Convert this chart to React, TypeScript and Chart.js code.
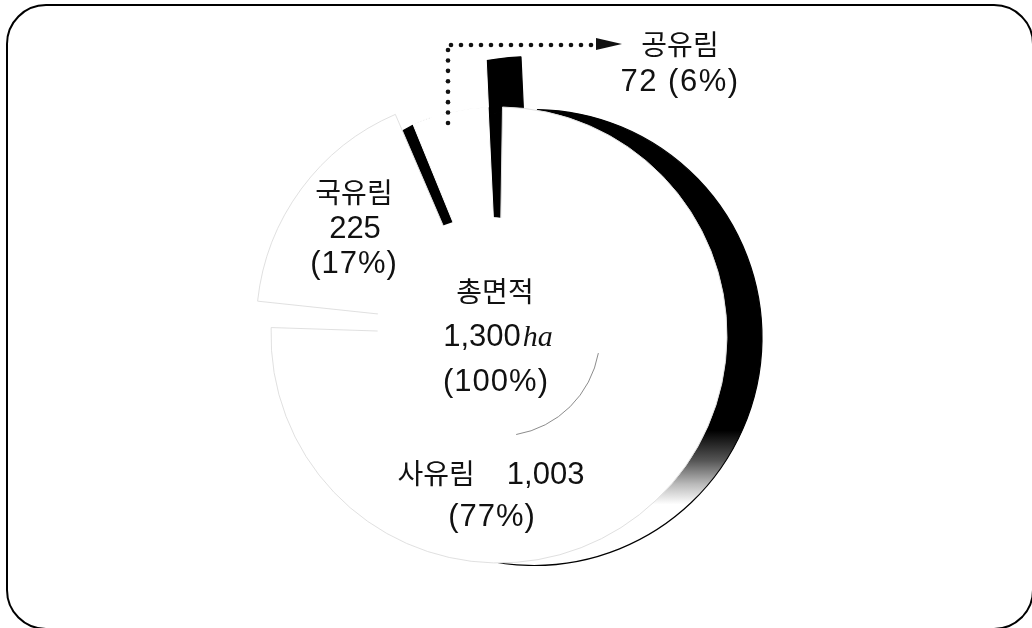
import { useEffect, useRef } from 'react';
import { Chart, registerables } from 'chart.js';

Chart.register(...registerables);

// ---- data ----
const categories = ['사유림', '국유림', '공유림'];
const areas = [1003, 225, 72];
const shares = [77, 17, 6];
const totalTitle = '총면적';
const totalArea = 1300;
const totalShare = 100;
const unit = 'ha';
const raisedSlice = [false, false, true];
const sliceOffsets = [0, 64, 0];

// ---- style ----
const SHADOW_DX = 35;
const SHADOW_DY = 2.5;
const SPACING = 8;
const KO = '28px "Noto Sans CJK KR", "Liberation Sans", sans-serif';
const NUM = '31px "Liberation Sans", Arial, sans-serif';
const UNIT_FONT = 'italic 30px "Liberation Serif", serif';
const INK = '#111';
const CLEAR = 'rgba(0,0,0,0)';
const EDGE = '#e0e0e0';

const fmt = (n: number) => n.toLocaleString('en-US');

type Run = [string, string] | number;

function drawRuns(ctx: CanvasRenderingContext2D, runs: Run[], cx: number, base: number, spacing = '0px') {
  let total = 0;
  (ctx as any).letterSpacing = spacing;
  const widths = runs.map((r) => {
    if (typeof r === 'number') {
      total += r;
      return r;
    }
    ctx.font = r[1];
    const w = ctx.measureText(r[0]).width;
    total += w;
    return w;
  });
  let x = cx - total / 2;
  ctx.textAlign = 'left';
  ctx.textBaseline = 'alphabetic';
  runs.forEach((r, i) => {
    if (typeof r !== 'number') {
      ctx.font = r[1];
      ctx.fillText(r[0], x, base);
    }
    x += widths[i];
  });
  (ctx as any).letterSpacing = '0px';
}

function dots(ctx: CanvasRenderingContext2D, x1: number, y1: number, x2: number, y2: number, step: number) {
  const len = Math.hypot(x2 - x1, y2 - y1);
  const n = Math.round(len / step);
  for (let i = 0; i <= n; i++) {
    const t = n === 0 ? 0 : i / n;
    ctx.beginPath();
    ctx.arc(x1 + (x2 - x1) * t, y1 + (y2 - y1) * t, 2.3, 0, Math.PI * 2);
    ctx.fill();
  }
}

const extrudePlugin = {
  id: 'extrude',
  beforeDatasetsDraw(chart: any) {
    const ctx: CanvasRenderingContext2D = chart.ctx;
    const grad = ctx.createLinearGradient(0, 0, 0, 628);
    grad.addColorStop(0, '#000');
    grad.addColorStop(428 / 628, '#000');
    grad.addColorStop(458 / 628, '#555');
    grad.addColorStop(482 / 628, '#bbb');
    grad.addColorStop(502 / 628, '#fff');
    grad.addColorStop(1, '#fff');
    ctx.save();
    ctx.translate(SHADOW_DX, SHADOW_DY);
    chart.data.datasets.forEach((ds: any, di: number) => {
      const meta = chart.getDatasetMeta(di);
      meta.data.forEach((el: any, i: number) => {
        if (ds.backgroundColor[i] === CLEAR) return;
        const proxy = Object.create(el);
        proxy.options = { ...el.options, backgroundColor: grad, borderColor: '#000', borderWidth: 1.2 };
        proxy.draw(ctx);
      });
    });
    ctx.restore();
  },
  afterDatasetsDraw(chart: any) {
    const ctx: CanvasRenderingContext2D = chart.ctx;
    const meta = chart.getDatasetMeta(1);
    const el = meta.data[0];
    const { x, y, innerRadius } = el;
    ctx.save();
    ctx.fillStyle = '#fff';
    ctx.beginPath();
    ctx.arc(x, y, innerRadius + 6, 0, Math.PI * 2);
    ctx.fill();
    // clear the extrusion showing under the lifted slices' inner edges
    meta.data.forEach((a: any) => {
      const off = (a.options.offset || 0) / 4;
      if (!off) return;
      const half = (a.startAngle + a.endAngle) / 2;
      const fix = 1 - Math.sin(Math.min(Math.PI, a.circumference || 0));
      ctx.beginPath();
      ctx.arc(a.x + Math.cos(half) * off, a.y + Math.sin(half) * off, a.innerRadius + off * fix + 6, 0, Math.PI * 2);
      ctx.fill();
    });
    ctx.strokeStyle = '#8c8c8c';
    ctx.lineWidth = 1;
    ctx.beginPath();
    ctx.arc(x, y, innerRadius, 0.18, 1.4);
    ctx.stroke();
    ctx.restore();
  },
  afterDraw(chart: any) {
    const ctx: CanvasRenderingContext2D = chart.ctx;
    ctx.save();
    ctx.fillStyle = INK;
    // dotted leader to 공유림 label
    dots(ctx, 448, 123, 448, 50, 10);
    dots(ctx, 451, 45, 591, 45, 10);
    ctx.beginPath();
    ctx.moveTo(596, 38);
    ctx.lineTo(622, 44);
    ctx.lineTo(596, 50);
    ctx.closePath();
    ctx.fill();

    drawRuns(ctx, [[categories[2], KO]], 680, 55);
    drawRuns(ctx, [[`${fmt(areas[2])} (${shares[2]}%)`, NUM]], 680, 91, '1.5px');

    drawRuns(ctx, [[categories[1], KO]], 354, 203);
    drawRuns(ctx, [[fmt(areas[1]), NUM]], 355, 238);
    drawRuns(ctx, [[`(${shares[1]}%)`, NUM]], 354, 273, '1px');

    drawRuns(ctx, [[totalTitle, KO]], 495, 302);
    drawRuns(ctx, [[fmt(totalArea), NUM], 2, [unit, UNIT_FONT]], 498, 346);
    drawRuns(ctx, [[`(${totalShare}%)`, NUM]], 496, 391, '1px');

    drawRuns(ctx, [[categories[0], KO], 32, [fmt(areas[0]), NUM]], 491, 484);
    drawRuns(ctx, [[`(${shares[0]}%)`, NUM]], 492, 526, '1px');
    ctx.restore();
  },
};

export default function App() {
  const ref = useRef<HTMLCanvasElement>(null);
  useEffect(() => {
    document.body.style.margin = '0';
    const chart = new Chart(ref.current!, {
      type: 'doughnut',
      data: {
        labels: categories,
        datasets: [
          {
            data: areas,
            backgroundColor: raisedSlice.map((r) => (r ? '#fff' : CLEAR)),
            borderColor: raisedSlice.map((r) => (r ? '#fff' : CLEAR)),
            borderWidth: 1,
            weight: 53,
            spacing: SPACING,
          },
          {
            data: areas,
            backgroundColor: areas.map(() => '#fff'),
            borderColor: raisedSlice.map((r) => (r ? '#fff' : EDGE)),
            borderWidth: 1,
            weight: 123,
            spacing: SPACING,
            offset: sliceOffsets,
          },
        ] as any,
      },
      options: {
        responsive: false,
        animation: false,
        devicePixelRatio: 1,
        events: [],
        rotation: -2.5,
        radius: 277,
        cutout: '36.46%',
        layout: { padding: { left: 0, right: 34, top: 42, bottom: 0 } },
        plugins: { legend: { display: false }, tooltip: { enabled: false } },
      } as any,
      plugins: [extrudePlugin],
    });
    return () => chart.destroy();
  }, []);
  return (
    <div style={{ position: 'fixed', left: 0, top: 0, width: 1032, height: 628, overflow: 'hidden', background: '#fff' }}>
      <canvas ref={ref} width={1032} height={628} style={{ position: 'absolute', left: 0, top: 0, width: 1032, height: 628 }} />
      <div
        style={{
          position: 'absolute',
          left: 6,
          top: 4,
          width: 1028,
          height: 626,
          boxSizing: 'border-box',
          border: '2px solid #000',
          borderRadius: 40,
          pointerEvents: 'none',
        }}
      />
    </div>
  );
}
